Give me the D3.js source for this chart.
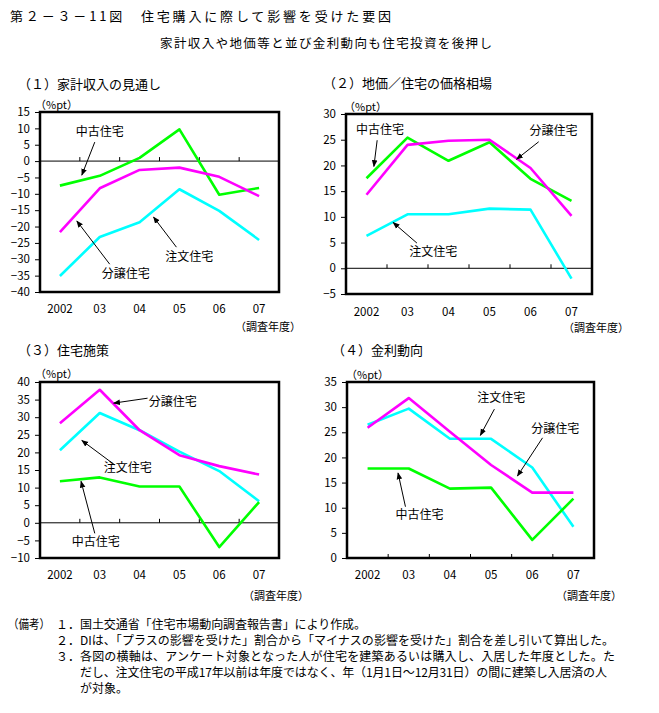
<!DOCTYPE html>
<html><head><meta charset="utf-8">
<script src="https://cdn.jsdelivr.net/npm/d3@7"></script>
<style>
body{margin:0;background:#fff;}
svg{display:block;font-family:"Noto Sans CJK JP","Noto Sans",sans-serif;}
</style></head>
<body>
<svg id="chart" width="659" height="713"></svg>
<script>
// ---------- data ----------
const years = ["2002", "03", "04", "05", "06", "07"];
const seriesNames = ["注文住宅", "中古住宅", "分譲住宅"];

// (1) 家計収入の見通し
const p1Chumon = [-35.1, -23.2, -18.7, -8.6, -15.2, -24.1];
const p1Chuko  = [-7.5, -4.5, 1.0, 9.7, -10.3, -8.2];
const p1Bunjo  = [-21.7, -8.3, -2.7, -2.0, -4.8, -10.7];
const p1Ticks  = [15, 10, 5, 0, -5, -10, -15, -20, -25, -30, -35, -40];

// (2) 地価／住宅の価格相場
const p2Chumon = [6.3, 10.5, 10.5, 11.6, 11.4, -2.0];
const p2Chuko  = [17.5, 25.4, 20.9, 24.5, 17.4, 13.1];
const p2Bunjo  = [14.3, 24.0, 24.8, 25.0, 19.5, 10.2];
const p2Ticks  = [30, 25, 20, 15, 10, 5, 0, -5];

// (3) 住宅施策
const p3Chumon = [20.6, 31.2, 26.3, 20.2, 14.7, 6.1];
const p3Chuko  = [11.8, 12.9, 10.3, 10.3, -6.9, 5.9];
const p3Bunjo  = [28.3, 37.8, 26.3, 19.2, 16.1, 13.7];
const p3Ticks  = [40, 35, 30, 25, 20, 15, 10, 5, 0, -5, -10];

// (4) 金利動向
const p4Chumon = [26.5, 29.7, 23.7, 23.7, 18.0, 6.2];
const p4Chuko  = [17.8, 17.8, 13.8, 14.0, 3.6, 11.8];
const p4Bunjo  = [25.9, 31.8, 25.1, 18.5, 13.0, 13.0];
const p4Ticks  = [35, 30, 25, 20, 15, 10, 5, 0];

const panelTitles = ["（１）家計収入の見通し", "（２）地価／住宅の価格相場", "（３）住宅施策", "（４）金利動向"];
const unitLabel = "（%pt）";
const xAxisTitle = "（調査年度）";
const mainTitle = "第２－３－11図　住宅購入に際して影響を受けた要因";
const subTitle = "家計収入や地価等と並び金利動向も住宅投資を後押し";
const noteLines = [
  ["（備考）", "１．", "国土交通省「住宅市場動向調査報告書」により作成。"],
  ["", "２．", "DIは、「プラスの影響を受けた」割合から「マイナスの影響を受けた」割合を差し引いて算出した。"],
  ["", "３．", "各図の横軸は、アンケート対象となった人が住宅を建築あるいは購入し、入居した年度とした。た"],
  ["", "", "だし、注文住宅の平成17年以前は年度ではなく、年（1月1日～12月31日）の間に建築し入居済の人"],
  ["", "", "が対象。"]
];

// ---------- styles ----------
const colors = {"注文住宅": "#00ffff", "中古住宅": "#00ff00", "分譲住宅": "#ff00ff"};

// ---------- layout ----------
const panels = [
  {title: panelTitles[0], box: [40, 112, 279, 292], ticks: p1Ticks,
   data: {"注文住宅": p1Chumon, "中古住宅": p1Chuko, "分譲住宅": p1Bunjo},
   titlePos: [18, 89], unitPos: [35, 109], xLabY: 313, xTitlePos: [235, 331],
   ann: [
     {name: "中古住宅", t: [1.0, 8.9], a: [0.875, 5.8], b: [0.55, -4.3]},
     {name: "分譲住宅", t: [1.65, -34.2], a: [1.25, -31.5], b: [0.425, -18.3]},
     {name: "注文住宅", t: [3.25, -29.0], a: [2.925, -26.3], b: [2.35, -17.1]}
   ]},
  {title: panelTitles[1], box: [346, 114, 592, 294], ticks: p2Ticks,
   data: {"注文住宅": p2Chumon, "中古住宅": p2Chuko, "分譲住宅": p2Bunjo},
   titlePos: [323, 88], unitPos: [344, 111], xLabY: 316, xTitlePos: [563, 332],
   ann: [
     {name: "中古住宅", t: [0.33, 26.9], a: [0.26, 24.9], b: [0.18, 19.8]},
     {name: "分譲住宅", t: [4.56, 26.7], a: [4.2, 24.6], b: [3.66, 21.2]},
     {name: "注文住宅", t: [1.63, 3.2], a: [1.23, 4.9], b: [0.65, 8.9]}
   ]},
  {title: panelTitles[2], box: [40, 382, 279, 558], ticks: p3Ticks,
   data: {"注文住宅": p3Chumon, "中古住宅": p3Chuko, "分譲住宅": p3Bunjo},
   titlePos: [18, 355], unitPos: [35, 378], xLabY: 579, xTitlePos: [243, 600],
   ann: [
     {name: "分譲住宅", t: [2.83, 34.6], a: [2.2, 35.4], b: [1.35, 34.0]},
     {name: "注文住宅", t: [1.7, 15.7], a: [1.37, 16.5], b: [0.55, 23.4]},
     {name: "中古住宅", t: [0.9, -5.4], a: [0.875, -3.0], b: [0.53, 11.8]}
   ]},
  {title: panelTitles[3], box: [347, 382, 594, 558], ticks: p4Ticks,
   data: {"注文住宅": p4Chumon, "中古住宅": p4Chuko, "分譲住宅": p4Bunjo},
   titlePos: [332, 355], unitPos: [346, 379], xLabY: 579, xTitlePos: [556, 600],
   ann: [
     {name: "注文住宅", t: [3.25, 31.9], a: [3.08, 29.6], b: [2.74, 24.4]},
     {name: "分譲住宅", t: [4.56, 25.7], a: [4.25, 23.9], b: [3.64, 16.3]},
     {name: "中古住宅", t: [1.26, 8.7], a: [0.92, 10.2], b: [0.74, 16.9]}
   ]}
];

const svg = d3.select("#chart");
svg.append("rect").attr("width", 659).attr("height", 713).attr("fill", "#fff");

svg.append("defs").append("marker")
  .attr("id", "arr").attr("viewBox", "0 0 10 10").attr("refX", 9).attr("refY", 5)
  .attr("markerWidth", 7).attr("markerHeight", 7).attr("markerUnits", "userSpaceOnUse")
  .attr("orient", "auto")
  .append("path").attr("d", "M0,1 L10,5 L0,9 Z").attr("fill", "#000");

// titles
svg.append("text").attr("x", 10).attr("y", 21).attr("font-size", 13)
  .attr("textLength", 381).attr("lengthAdjust", "spacing").text(mainTitle);
svg.append("text").attr("x", 160).attr("y", 48).attr("font-size", 12.5)
  .attr("textLength", 332).attr("lengthAdjust", "spacing").text(subTitle);

panels.forEach(p => {
  const [l, t, r, b] = p.box;
  const g = svg.append("g");
  const yMin = d3.min(p.ticks), yMax = d3.max(p.ticks);
  const x = d3.scaleBand().domain(years).range([l, r]);
  const bw = x.bandwidth();
  const xi = i => l + bw * (i + 0.5);
  const y = d3.scaleLinear().domain([yMin, yMax]).range([b, t]);

  g.append("text").attr("x", p.titlePos[0]).attr("y", p.titlePos[1]).attr("font-size", 13).text(p.title);
  g.append("text").attr("x", p.unitPos[0]).attr("y", p.unitPos[1]).attr("font-size", 11).text(unitLabel);

  // y axis
  const ax = g.append("g").attr("transform", `translate(${l},0)`)
    .call(d3.axisLeft(y).tickValues(p.ticks).tickSize(5).tickPadding(5).tickFormat(d3.format("d")));
  ax.select(".domain").remove();
  ax.selectAll("text").attr("font-size", 11.5).attr("font-family", "'Noto Sans CJK JP'").attr("fill", "#000");
  ax.selectAll("line").attr("stroke", "#000");

  // zero line and x ticks
  const zy = y(0);
  if (yMin < 0) {
    g.append("line").attr("x1", l).attr("x2", r).attr("y1", zy).attr("y2", zy)
      .attr("stroke", "#000").attr("stroke-width", 1);
  }
  years.slice(1).forEach(yr => {
    g.append("line").attr("x1", x(yr)).attr("x2", x(yr)).attr("y1", zy).attr("y2", zy - 4)
      .attr("stroke", "#000").attr("stroke-width", 1);
  });

  // x labels
  g.selectAll(".xl").data(years).enter().append("text")
    .attr("x", d => x(d) + bw / 2).attr("y", p.xLabY).attr("text-anchor", "middle")
    .attr("font-size", 11.5).text(d => d);
  g.append("text").attr("x", p.xTitlePos[0]).attr("y", p.xTitlePos[1]).attr("font-size", 11)
    .text(xAxisTitle);

  // lines
  const line = d3.line().x((d, i) => x(years[i]) + bw / 2).y(d => y(d));
  seriesNames.forEach(n => {
    g.append("path").datum(p.data[n]).attr("d", line).attr("fill", "none")
      .attr("stroke", colors[n]).attr("stroke-width", 2.6).attr("stroke-linejoin", "round");
  });

  // box
  g.append("rect").attr("x", l).attr("y", t).attr("width", r - l).attr("height", b - t)
    .attr("fill", "none").attr("stroke", "#000").attr("stroke-width", 2.5);

  // annotations
  p.ann.forEach(a => {
    g.append("text").attr("x", xi(a.t[0])).attr("y", y(a.t[1]) + 4.5).attr("text-anchor", "middle")
      .attr("font-size", 12).text(a.name);
    g.append("line").attr("x1", xi(a.a[0])).attr("y1", y(a.a[1]))
      .attr("x2", xi(a.b[0])).attr("y2", y(a.b[1]))
      .attr("stroke", "#000").attr("stroke-width", 1).attr("marker-end", "url(#arr)");
  });
});

// notes
const noteY = [629, 645, 661, 677, 693];
const noteLen = [286, 534, 535, 527, 0];
noteLines.forEach((ln, i) => {
  if (ln[0]) svg.append("text").attr("x", 8).attr("y", noteY[i]).attr("font-size", 12)
    .attr("textLength", 42).attr("lengthAdjust", "spacingAndGlyphs").text(ln[0]);
  if (ln[1]) svg.append("text").attr("x", 56).attr("y", noteY[i]).attr("font-size", 12).text(ln[1]);
  const tx = svg.append("text").attr("x", 80).attr("y", noteY[i]).attr("font-size", 12).text(ln[2]);
  if (noteLen[i]) tx.attr("textLength", noteLen[i]).attr("lengthAdjust", "spacing");
});
</script>
</body></html>
